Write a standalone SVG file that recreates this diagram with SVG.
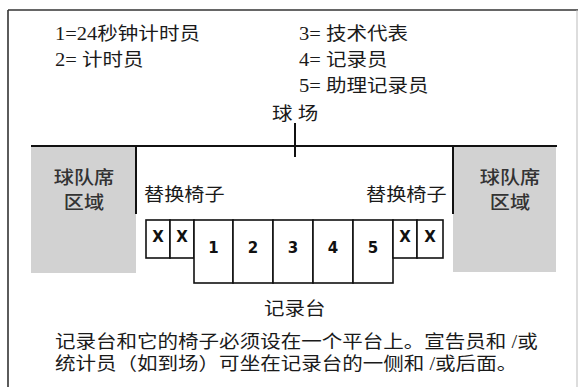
<svg xmlns="http://www.w3.org/2000/svg" width="579" height="387" viewBox="0 0 579 387">
<style>
.t{font-family:"Liberation Serif","Noto Sans CJK SC",serif;font-size:18px;fill:#1a1a1a}
.g{font-family:"Noto Sans CJK SC",sans-serif;font-size:18px;fill:#333;font-weight:500;text-anchor:middle}
.n{font-family:"DejaVu Sans",sans-serif;font-size:15px;font-weight:bold;fill:#111;text-anchor:middle}
.box{fill:#fff;stroke:#111;stroke-width:1.6}
.ln{stroke:#111;stroke-width:2;fill:none}
</style>
<rect x="0" y="0" width="579" height="387" fill="#fff"/>
<g id="frame">
<line x1="8" y1="10" x2="578" y2="10" stroke="#333" stroke-width="1.6"/>
<line x1="8" y1="10" x2="8" y2="387" stroke="#333" stroke-width="1.6"/>
<line x1="577" y1="10" x2="577" y2="387" stroke="#bbb" stroke-width="1"/>
</g>
<g id="legend">
<text class="t" transform="translate(55,40) scale(1.14,1)">1=24秒钟计时员</text>
<text class="t" transform="translate(55,66) scale(1.14,1)">2= 计时员</text>
<text class="t" transform="translate(299,40) scale(1.14,1)">3= 技术代表</text>
<text class="t" transform="translate(299,66) scale(1.14,1)">4= 记录员</text>
<text class="t" transform="translate(299,92) scale(1.14,1)">5= 助理记录员</text>
</g>
<g id="court-label"><text class="t" transform="translate(272,120) scale(1.14,1)">球 场</text></g>
<g id="team-left">
<rect x="31" y="146" width="105" height="127" fill="#d2d2d2"/>
<text class="g" transform="translate(84,184) scale(1.12,1)">球队席</text>
<text class="g" transform="translate(84,209) scale(1.12,1)">区域</text>
</g>
<g id="team-right">
<rect x="453" y="146" width="103" height="126" fill="#d2d2d2"/>
<text class="g" transform="translate(510,184) scale(1.12,1)">球队席</text>
<text class="g" transform="translate(510,209) scale(1.12,1)">区域</text>
</g>
<g id="connectors">
<line class="ln" x1="31" y1="146" x2="557" y2="146" stroke-width="2.6"/>
<line class="ln" x1="295" y1="123" x2="295" y2="157"/>
<line class="ln" x1="136" y1="146" x2="136" y2="214"/>
<line class="ln" x1="453" y1="146" x2="453" y2="214"/>
</g>
<g id="subs-left"><text class="t" transform="translate(144,201) scale(1.12,1)">替换椅子</text></g>
<g id="subs-right"><text class="t" transform="translate(366,201) scale(1.12,1)">替换椅子</text></g>
<g id="table">
<rect class="box" x="146" y="220" width="24" height="38"/>
<rect class="box" x="170" y="220" width="24" height="38"/>
<rect class="box" x="194" y="220" width="39" height="63"/>
<rect class="box" x="233" y="220" width="40" height="63"/>
<rect class="box" x="273" y="220" width="40" height="63"/>
<rect class="box" x="313" y="220" width="40" height="63"/>
<rect class="box" x="353" y="220" width="40" height="63"/>
<rect class="box" x="393" y="220" width="24" height="38"/>
<rect class="box" x="417" y="220" width="26" height="38"/>
<text class="n" x="158" y="242">X</text>
<text class="n" x="182" y="242">X</text>
<text class="n" x="213.5" y="253">1</text>
<text class="n" x="253" y="253">2</text>
<text class="n" x="293" y="253">3</text>
<text class="n" x="333" y="253">4</text>
<text class="n" x="373" y="253">5</text>
<text class="n" x="405" y="242">X</text>
<text class="n" x="430" y="242">X</text>
</g>
<g id="table-label"><text class="t" transform="translate(264,315) scale(1.14,1)">记录台</text></g>
<g id="note">
<text class="t" transform="translate(55,348) scale(1.14,1)">记录台和它的椅子必须设在一个平台上。宣告员和 /或</text>
<text class="t" transform="translate(55,370) scale(1.14,1)">统计员（如到场）可坐在记录台的一侧和 /或后面。</text>
</g>
</svg>
